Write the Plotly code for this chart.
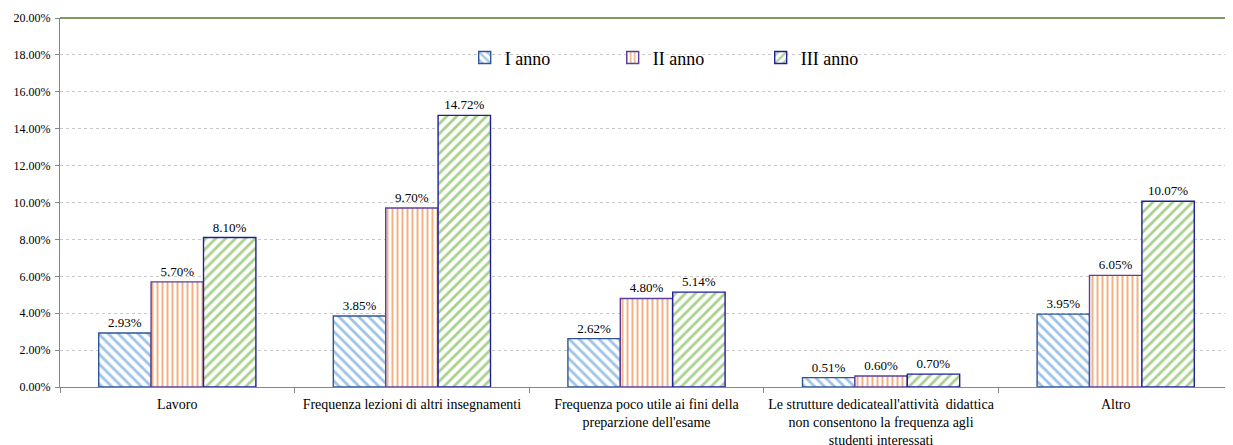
import plotly.graph_objects as go

categories = [
    "Lavoro",
    "Frequenza lezioni di altri insegnamenti",
    "Frequenza poco utile ai fini della<br>preparzione dell'esame",
    "Le strutture dedicateall'attività  didattica<br>non consentono la frequenza agli<br>studenti interessati",
    "Altro",
]
series_names = ["I anno", "II anno", "III anno"]
anno1 = [0.0293, 0.0385, 0.0262, 0.0051, 0.0395]
anno2 = [0.0570, 0.0970, 0.0480, 0.0060, 0.0605]
anno3 = [0.0810, 0.1472, 0.0514, 0.0070, 0.1007]
y_ticks = [0.0, 0.02, 0.04, 0.06, 0.08, 0.10, 0.12, 0.14, 0.16, 0.18, 0.20]

styles = [
    dict(shape="\\", fg="#9DC3E6", line="#2F5597", size=7),
    dict(shape="|", fg="#F4B183", line="#5B3F9E", size=5),
    dict(shape="/", fg="#A9D18E", line="#1F1F9A", size=7),
]

fig = go.Figure()
for name, vals, st in zip(series_names, [anno1, anno2, anno3], styles):
    fig.add_trace(go.Bar(
        name=name,
        x=categories,
        y=vals,
        texttemplate="%{y:.2%}",
        textposition="outside",
        textfont=dict(family="Liberation Serif", size=13, color="#000000"),
        cliponaxis=False,
        marker=dict(
            color="white",
            line=dict(color=st["line"], width=1.4),
            pattern=dict(shape=st["shape"], fgcolor=st["fg"], bgcolor="white",
                         size=st["size"], solidity=0.4, fillmode="replace"),
        ),
    ))

fig.update_layout(
    width=1233, height=445,
    margin=dict(l=52, r=8, t=10, b=66, autoexpand=False),
    paper_bgcolor="white", plot_bgcolor="white",
    barmode="group", bargap=0.33, bargroupgap=0,
    font=dict(family="Liberation Serif", color="#000000"),
    legend=dict(
        orientation="h", x=0.345, xanchor="left", y=0.892, yanchor="middle",
        font=dict(family="Liberation Serif", size=18),
        entrywidth=103, entrywidthmode="pixels",
        bgcolor="rgba(0,0,0,0)", itemwidth=30,
    ),
    showlegend=True,
)
fig.update_yaxes(
    range=[0, 0.2], tickvals=y_ticks, tickformat=".2%",
    tickfont=dict(family="Liberation Serif", size=12),
    ticklabelstandoff=2,
    showgrid=True, gridcolor="#C8C8C8", griddash="dot", gridwidth=1,
    showline=True, linecolor="#868686", linewidth=1,
    ticks="outside", ticklen=4, tickcolor="#868686",
    zeroline=False,
)
fig.update_xaxes(
    tickfont=dict(family="Liberation Serif", size=14),
    tickangle=0, ticklabelstandoff=4,
    showline=True, linecolor="#868686", linewidth=1,
    ticks="outside", ticklen=5, tickcolor="#868686", tickson="boundaries",
    showgrid=False,
)
fig.add_shape(type="line", xref="paper", yref="paper", x0=0, x1=1, y0=1, y1=1,
              line=dict(color="#4E7A2E", width=1.5))

fig.write_html("out.html")
